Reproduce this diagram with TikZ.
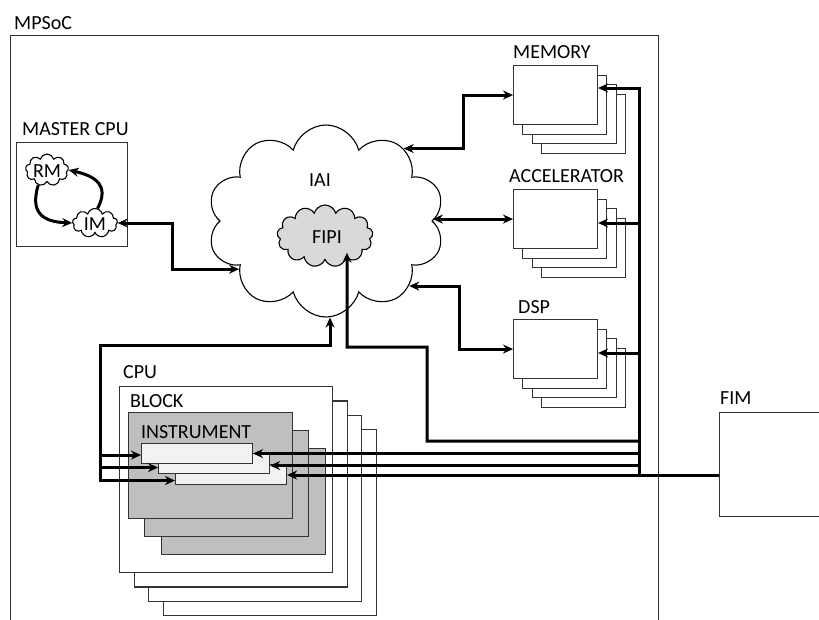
\documentclass[tikz,border=0pt]{standalone}
\usepackage{fontspec}
\setmainfont{Carlito}
\usetikzlibrary{shapes.symbols,arrows.meta,calc}
\begin{document}
\begin{tikzpicture}[x=1pt,y=-1pt,
  lbl/.style={inner sep=0pt, anchor=west, font=\fontsize{20}{24}\selectfont},
  ctr/.style={inner sep=0pt, font=\fontsize{20}{24}\selectfont},
  thinln/.style={draw=black!80, line width=1.1pt},
  box/.style={thinln, fill=white, inner sep=0pt, anchor=north west},
  gbox/.style={thinln, fill=black!25, inner sep=0pt, anchor=north west},
  ibox/.style={thinln, fill=black!5, inner sep=0pt, anchor=north west},
  cl/.style={cloud, draw, line width=1.1pt, cloud ignores aspect, inner sep=0pt},
  bus/.style={line width=3pt},
  arr/.style={bus, -{Stealth[length=10pt,width=9pt]}},
  dbl/.style={bus, {Stealth[length=10pt,width=9pt]}-{Stealth[length=10pt,width=9pt]}},
]
\useasboundingbox (0,0) rectangle (819,619);

% MPSoC frame
\node[thinln, inner sep=0pt, anchor=north west, minimum width=648pt, minimum height=620pt] (mpsoc) at (10,35) {};
\node[lbl] (mpsocl) at (14,23) {MPSoC};

% FIM
\node[thinln, inner sep=0pt, anchor=north west, minimum width=130pt, minimum height=104pt] (fim) at (719,412) {};
\node[lbl] (fiml) at (720,398) {FIM};

% Memory / Accelerator / DSP stacks
\foreach \i in {3,2,1,0}{
  \node[box, minimum width=84pt, minimum height=59pt] (mem\i) at (513+9.3*\i,65+9.5*\i) {};
  \node[box, minimum width=84pt, minimum height=59pt] (acc\i) at (513+9.3*\i,189+9.5*\i) {};
  \node[box, minimum width=84pt, minimum height=59pt] (dsp\i) at (513+9.3*\i,319+9.5*\i) {};
}
\node[lbl] (meml) at (513,52) {MEMORY};
\node[lbl] (accl) at (509,176) {ACCELERATOR};
\node[lbl] (dspl) at (518,307) {DSP};

% CPU stack
\foreach \i in {3,2,1,0}{
  \node[box, minimum width=213pt, minimum height=186pt] (cpu\i) at (119+14.6*\i,386+14.4*\i) {};
}
\node[lbl] (cpul) at (123,372) {CPU};
\foreach \i in {2,1,0}{
  \node[gbox, minimum width=164pt, minimum height=106pt] (blk\i) at (128+16.3*\i,412+18*\i) {};
}
\node[lbl] (blkl) at (130,401) {BLOCK};
\node[lbl] (insl) at (141,432) {INSTRUMENT};
\node[ibox, minimum width=111pt, minimum height=20pt] (ins3) at (175,463.5) {};
\node[ibox, minimum width=111pt, minimum height=20pt] (ins2) at (158,453) {};
\node[ibox, minimum width=111pt, minimum height=20pt] (ins1) at (141,443) {};

% Master CPU
\node[thinln, inner sep=0pt, anchor=north west, minimum width=111pt, minimum height=104pt] (mcpu) at (16,142) {};
\node[lbl] (mcpul) at (22,129) {MASTER CPU};
\node[cl, cloud puffs=9, minimum width=43pt, minimum height=32pt] (rm) at (47,170) {};
\node[ctr] (rmt) at (47,171) {RM};
\node[cl, cloud puffs=9, minimum width=45pt, minimum height=29pt] (im) at (95,223) {};
\node[ctr] (imt) at (95,224) {IM};
\draw[arr] (rm.240) .. controls (28,218) and (50,222) .. (im.west);
\draw[arr] (im.80) .. controls (110,185) and (95,176) .. (rm.east);

% IAI and FIPI clouds
\node[cl, fill=white, cloud puffs=10, minimum width=237pt, minimum height=192pt] (iai) at (326,221) {};
\node[ctr] (iait) at (320,180) {IAI};
\node[cl, fill=black!15, cloud puffs=13, minimum width=96pt, minimum height=62pt] (fipi) at (325,236) {};
\node[ctr] (fipit) at (327,237) {FIPI};

% connections to IAI
\draw[dbl] (im.east) -- ++(55,0) |- (iai.209);
\draw[dbl] (iai.43) -| ($(mem0.west)+(-50,0)$) -- (mem0.west);
\draw[dbl] (acc0.west) -- (acc0.west -| iai.east);
\draw[dbl] (dsp0.west) -- ++(-54,0) |- (iai.322);

% left trunk
\coordinate (trunk) at (100,345);
\draw[dbl] ($(ins3.west)+(0,6.5)$) -| (trunk) -| ($(iai.south)+(4,0)$);
\draw[arr] ($(trunk |- ins1.west)+(0,1.5)$) -- ($(ins1.west)+(0,1.5)$);
\draw[arr] ($(trunk |- ins2.west)+(0,4)$) -- ($(ins2.west)+(0,4)$);

% right bus
\coordinate (bt) at (639,88);
\coordinate (bb) at (639,475);
\draw[arr] (bb) -- (bt) -- (bt -| mem0.east);
\draw[arr] (bt |- 0,223) -- (acc0.east |- 0,223);
\draw[arr] (bt |- 0,353) -- (dsp0.east |- 0,353);
\draw[arr] (bt |- 0,441) -- (427,441) -- (427,347) -- (347,347) -- ($(fipi.south)+(22,-8)$);
\draw[arr] (bt |- ins1.east) -- (ins1.east);
\draw[arr] ($(bt |- ins2.east)+(0,2)$) -- ($(ins2.east)+(0,2)$);
\draw[arr] (fim.west |- bb) -- (ins3.east |- bb);
\end{tikzpicture}
\end{document}
